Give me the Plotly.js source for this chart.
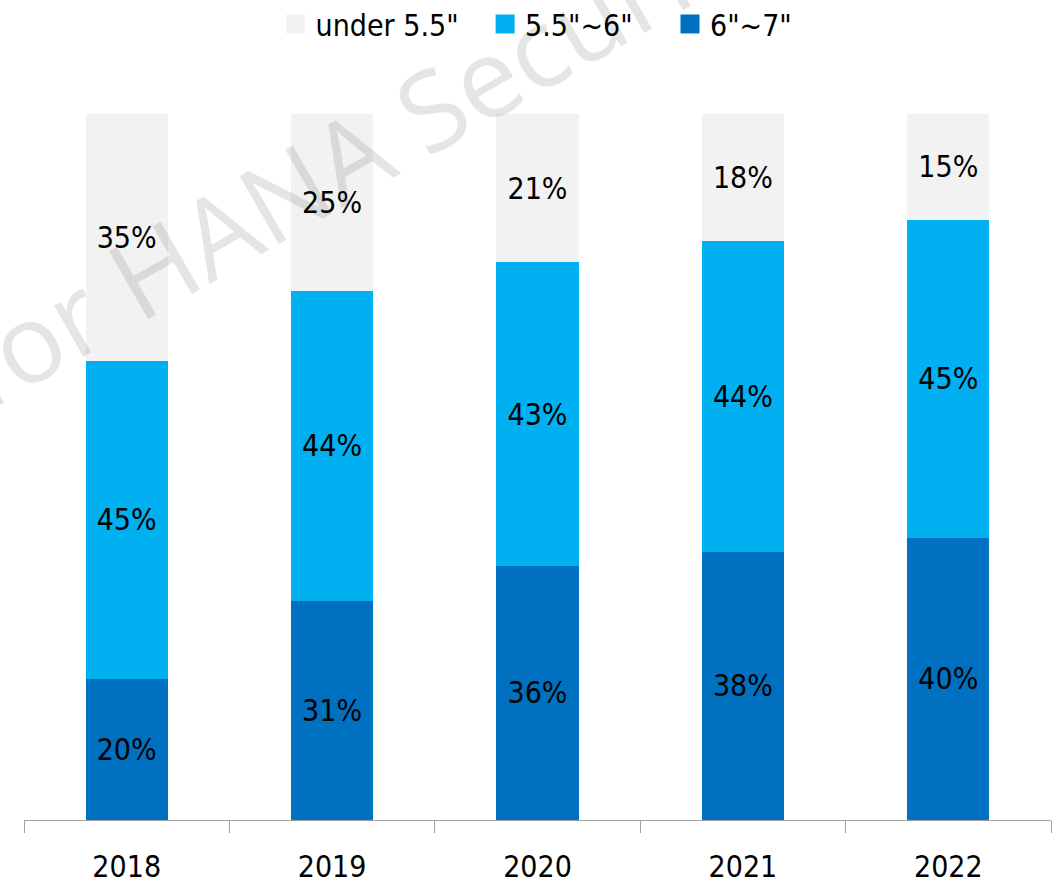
<!DOCTYPE html>
<html>
<head>
<meta charset="utf-8">
<script src="https://cdn.plot.ly/plotly-3.0.1.min.js"></script>
<style>html,body{margin:0;padding:0;background:#fff;}#chart{width:1063px;height:884px;}</style>
</head>
<body>
<div id="chart"></div>
<script>
var years = ["2018", "2019", "2020", "2021", "2022"];
var seriesNames = ["6\"~7\"", "5.5\"~6\"", "under 5.5\""];
var large = [20, 31, 36, 38, 40];
var mid = [45, 44, 43, 44, 45];
var small = [35, 25, 21, 18, 15];
var colors = ["#0070c0", "#00b0f0", "#f2f2f2"];

var FONT = "'Liberation Sans Narrow', 'DejaVu Sans Condensed', 'Arial Narrow', sans-serif";

function mk(name, vals, color, legendId) {
  return {
    type: "bar",
    name: name,
    x: years,
    y: vals,
    marker: {color: color, line: {width: 0}},
    text: vals.map(function (v) { return v + "%"; }),
    textposition: "inside",
    insidetextanchor: "middle",
    textangle: 0,
    constraintext: "none",
    insidetextfont: {family: FONT, size: 30, color: "#000"},
    hoverinfo: "skip",
    legend: legendId
  };
}

var data = [
  mk(seriesNames[0], large, colors[0], "legend3"),
  mk(seriesNames[1], mid, colors[1], "legend2"),
  mk(seriesNames[2], small, colors[2], "legend")
];

function leg(x) {
  return {
    x: x, y: 1.1275, xanchor: "left", yanchor: "middle",
    orientation: "h", bgcolor: "rgba(0,0,0,0)",
    font: {family: FONT, size: 30, color: "#000"}
  };
}

var layout = {
  width: 1063,
  height: 884,
  margin: {l: 24, r: 12, t: 114, b: 64, autoexpand: false},
  paper_bgcolor: "#fff",
  plot_bgcolor: "#fff",
  barmode: "stack",
  bargap: 0.6,
  font: {family: FONT, size: 30, color: "#000"},
  showlegend: true,
  legend: leg(0.245),
  legend2: leg(0.449),
  legend3: leg(0.629),
  xaxis: {
    type: "category",
    showline: true,
    linecolor: "#a0a0a0",
    linewidth: 1,
    ticks: "outside",
    tickson: "boundaries",
    ticklen: 12,
    tickcolor: "#a0a0a0",
    tickwidth: 1,
    ticklabelstandoff: 20,
    showgrid: false,
    tickfont: {family: FONT, size: 30, color: "#000"},
    fixedrange: true
  },
  yaxis: {
    range: [0, 100],
    visible: false,
    showgrid: false,
    zeroline: false,
    fixedrange: true
  },
  annotations: [{
    xref: "paper", yref: "paper",
    x: 0.365, y: 0.985,
    xanchor: "center", yanchor: "middle",
    text: "for HANA Securities",
    showarrow: false,
    textangle: -30,
    font: {family: "'Open Sans', sans-serif", size: 110, color: "rgba(0,0,0,0.1)"}
  }]
};

Plotly.newPlot("chart", data, layout, {displayModeBar: false, staticPlot: true}).then(function (gd) {
  gd.querySelectorAll(".legendpoints path").forEach(function (p) {
    p.setAttribute("d", "M9.5,9.5H-9.5V-9.5H9.5Z");
  });
});
</script>
</body>
</html>
